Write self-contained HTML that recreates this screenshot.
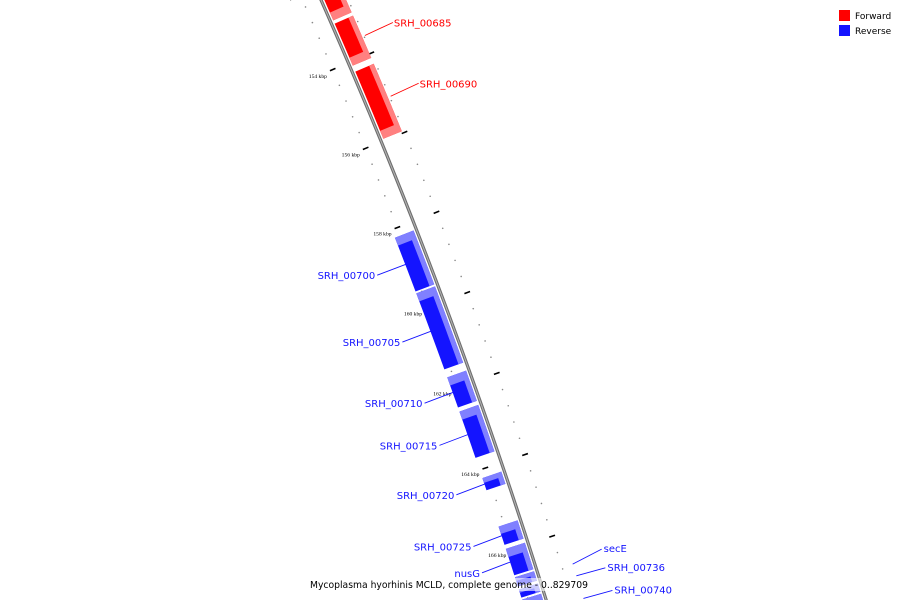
<!DOCTYPE html>
<html><head><meta charset="utf-8"><style>
html,body{margin:0;padding:0;background:#fff;overflow:hidden;}
svg{display:block;}
</style></head><body>
<svg id="map" width="900" height="600" viewBox="0 0 900 600" xmlns="http://www.w3.org/2000/svg" font-family="'DejaVu Sans', 'Liberation Sans', sans-serif">
<g id="backbone-g"></g>
<g id="ticks-g"></g>
<g id="features-g"></g>
<g id="labels-g"></g>
<g>
  <rect x="839" y="10" width="11" height="11" fill="#ff0000"/>
  <text x="855" y="19" font-size="9" fill="#000">Forward</text>
  <rect x="839" y="25" width="11" height="11" fill="#1414ff"/>
  <text x="855" y="34" font-size="9" fill="#000">Reverse</text>
</g>
<rect x="308" y="578" width="284" height="13" fill="#fff" fill-opacity="0.6"/>
<text x="310" y="588" font-size="10" textLength="278" lengthAdjust="spacingAndGlyphs" fill="#000">Mycoplasma hyorhinis MCLD, complete genome - 0..829709</text>
</svg>
<script>
// data (kbp)
const genomeLength = 829.709;
const featureNames = ["SRH_00680","SRH_00685","SRH_00690","SRH_00700","SRH_00705","SRH_00710","SRH_00715","SRH_00720","SRH_00725","nusG","secE","SRH_00736","SRH_00740"];
const featureStarts = [151.0,153.03,154.25,158.2,159.6,161.7,162.55,164.2,165.4,165.95,166.65,166.95,167.2];
const featureEnds   = [152.95,154.1,155.95,159.55,161.5,162.45,163.7,164.5,165.85,166.6,166.88,167.15,168.0];
const featureStrands = [1,1,1,-1,-1,-1,-1,-1,-1,-1,-1,-1,-1];
const featureLabeled = [false,true,true,true,true,true,true,true,true,true,true,true,true];
const majorTickLabels = ["152 kbp","154 kbp","156 kbp","158 kbp","160 kbp","162 kbp","164 kbp","166 kbp","168 kbp"];
const majorTickValues = [152,154,156,158,160,162,164,166,168];

const NS="http://www.w3.org/2000/svg";
const CX=-4850.5, CY=2282.9, R=5653, THETA0=-20.52, BP0=160;
function ang(bp){return (THETA0+(bp-BP0)*360/genomeLength)*Math.PI/180;}
function pt(bp,r){const a=ang(bp);return [CX+r*Math.cos(a),CY+r*Math.sin(a)];}
function mk(tag,attrs,parent){const e=document.createElementNS(NS,tag);for(const k in attrs)e.setAttribute(k,attrs[k]);parent.appendChild(e);return e;}
function arcPts(b1,b2,r,n){const out=[];for(let i=0;i<=n;i++){out.push(pt(b1+(b2-b1)*i/n,r));}return out;}
function poly(p){return p.map(q=>q[0].toFixed(2)+","+q[1].toFixed(2)).join(" ");}

// backbone
const bg=document.getElementById('backbone-g');
let d=arcPts(149,170,R,40).map((p,i)=>(i?"L":"M")+p[0].toFixed(2)+" "+p[1].toFixed(2)).join(" ");
let bl=mk('path',{d:d,stroke:'#6e6e6e','stroke-width':3.2,fill:'none'},bg);


let bl2=mk('path',{d:d,stroke:'#b4b4b4','stroke-width':1,fill:'none'},bg);



// ticks: minor every 0.4 kbp, major every 2 kbp
const tg=document.getElementById('ticks-g');
for(let k=Math.ceil(149/0.4);k<=Math.floor(170/0.4);k++){
  const bp=k*0.4;
  const major=(k%5===0);
  [-1,1].forEach(side=>{
    const rc=side<0?R-17:R+25;
    if(major){
      const a=pt(bp,rc-3),b=pt(bp,rc+3);
      const t=mk('line',{x1:a[0],y1:a[1],x2:b[0],y2:b[1],stroke:'#000','stroke-width':1.6},tg);
      
      
    }else{
      const c=pt(bp,rc);
      const t=mk('circle',{cx:c[0],cy:c[1],r:0.8,fill:'#888'},tg);
      
      
    }
  });
}
majorTickValues.forEach((v,i)=>{
  const q=pt(v,R-20);
  const t=mk('text',{x:q[0]-3,y:q[1]+7,'font-size':5.6,'text-anchor':'end',fill:'#000','font-family':"'Liberation Serif', serif"},tg);
  t.textContent=majorTickLabels[i];
  
  
});

// features
const fg=document.getElementById('features-g');
const lg=document.getElementById('labels-g');
featureNames.forEach((name,i)=>{
  const s=featureStarts[i],e=featureEnds[i],st=featureStrands[i];
  const r1=st>0?R+3:R-23, r2=st>0?R+23:R-3;
  const head=Math.min(0.2,(e-s)*0.4);
  const main=st>0?'#ff0000':'#1414ff', light=st>0?'#ff8080':'#8080ff';
  const g=mk('g',{},fg);
  
  
  function band(b1,b2,ra,rb,fill){
    const p=arcPts(b1,b2,ra,16).concat(arcPts(b2,b1,rb,16));
    const el=mk('polygon',{points:poly(p),fill:fill},g);
    
    
  }
  const outerR=Math.max(r1,r2), innerR=Math.min(r1,r2);
  band(s,e,innerR,outerR,main);
  band(s,e,outerR-5,outerR,light);
  // arrowhead cap
  if(st>0) band(e-head,e,innerR,outerR,light);
  else band(s,s+head,innerR,outerR,light);

  if(!featureLabeled[i]) return;
  const mid=(s+e)/2;
  const col=st>0?'#ff0000':'#1414ff';
  let a,b,tx,ty,anchor;
  if(name==="secE"||name==="SRH_00736"||name==="SRH_00740"){
    a=pt(mid,R+36); b=[a[0]+29,a[1]-(name==="secE"?15:8)];
    tx=b[0]+2; ty=b[1]+3; anchor='start';
  }else if(st>0){
    a=pt(mid,R+26); b=[a[0]+28,a[1]-13]; tx=b[0]+1; ty=b[1]+4; anchor='start';
  }else{
    a=pt(mid,R-22); b=[a[0]-29,a[1]+11]; tx=b[0]-2; ty=b[1]+4; anchor='end';
  }
  const ln=mk('line',{x1:a[0],y1:a[1],x2:b[0],y2:b[1],stroke:col,'stroke-width':0.9},lg);
  
  
  const t=mk('text',{x:tx,y:ty,'font-size':10,'text-anchor':anchor,fill:col},lg);
  t.textContent=name;
  
  
});
</script>
</body></html>
